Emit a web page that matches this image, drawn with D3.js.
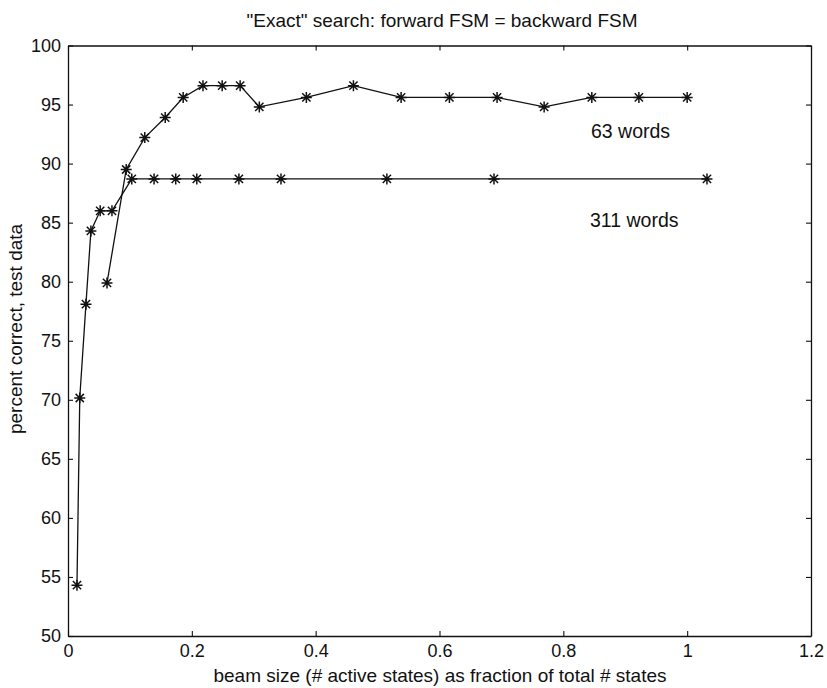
<!DOCTYPE html>
<html>
<head>
<meta charset="utf-8">
<style>
  body { margin: 0; background: #fff; }
  svg { display: block; font-family: "Liberation Sans", Arial, sans-serif; }
</style>
</head>
<body>
<svg></svg>
<script src="https://d3js.org/d3.v7.min.js"></script>
<script>
// 311 words
var xs311 = [0.0145, 0.019, 0.029, 0.037, 0.052, 0.071, 0.103, 0.139, 0.174, 0.208, 0.276, 0.344, 0.515, 0.688, 1.032];
var ys311 = [54.3, 70.15, 78.1, 84.3, 86.0, 86.0, 88.7, 88.7, 88.7, 88.7, 88.7, 88.7, 88.7, 88.7, 88.7];
// 63 words
var xs63 = [0.063, 0.094, 0.124, 0.157, 0.186, 0.218, 0.249, 0.278, 0.309, 0.385, 0.461, 0.538, 0.616, 0.693, 0.769, 0.846, 0.922, 1.0];
var ys63 = [79.9, 89.5, 92.2, 93.9, 95.6, 96.6, 96.6, 96.6, 94.8, 95.6, 96.6, 95.6, 95.6, 95.6, 94.8, 95.6, 95.6, 95.6];

var xTicks = [0, 0.2, 0.4, 0.6, 0.8, 1, 1.2];
var yTicks = [50, 55, 60, 65, 70, 75, 80, 85, 90, 95, 100];

var width = 827, height = 688;
var margin = {left: 68, right: 16, top: 45.5, bottom: 52};

var svg = d3.select("svg").attr("width", width).attr("height", height);

var x = d3.scaleLinear().domain([0, 1.2]).range([margin.left, width - margin.right]);
var y = d3.scaleLinear().domain([50, 100]).range([height - margin.bottom, margin.top]);

var fmt = function(d) { return String(d); };

// axes, matlab style box with inward ticks
svg.append("g").attr("transform", "translate(0," + y(50) + ")")
  .call(d3.axisBottom(x).tickValues(xTicks).tickFormat(fmt).tickSizeInner(-5).tickSizeOuter(0).tickPadding(8));
svg.append("g").attr("transform", "translate(0," + y(100) + ")")
  .call(d3.axisTop(x).tickValues(xTicks).tickFormat("").tickSizeInner(-5).tickSizeOuter(0));
svg.append("g").attr("transform", "translate(" + x(0) + ",0)")
  .call(d3.axisLeft(y).tickValues(yTicks).tickFormat(fmt).tickSizeInner(-5).tickSizeOuter(0).tickPadding(7));
svg.append("g").attr("transform", "translate(" + x(1.2) + ",0)")
  .call(d3.axisRight(y).tickValues(yTicks).tickFormat("").tickSizeInner(-5).tickSizeOuter(0));

svg.selectAll(".domain").attr("stroke", "#111").attr("stroke-width", 1.3);
svg.selectAll(".tick line").attr("stroke", "#111").attr("stroke-width", 1.1);
svg.selectAll(".tick text").attr("font-size", 18).attr("fill", "#111")
  .attr("font-family", "Liberation Sans, Arial, sans-serif");

var line = d3.line().x(function(d) { return x(d[0]); }).y(function(d) { return y(d[1]); });

function drawSeries(xs, ys) {
  var pts = xs.map(function(v, i) { return [v, ys[i]]; });
  svg.append("path").datum(pts).attr("d", line)
    .attr("fill", "none").attr("stroke", "#111").attr("stroke-width", 1.3);
  var r = 5.5;
  var star = "M" + (-r) + ",0L" + r + ",0M0," + (-r) + "L0," + r +
    "M" + (-r * 0.75) + "," + (-r * 0.75) + "L" + (r * 0.75) + "," + (r * 0.75) +
    "M" + (-r * 0.75) + "," + (r * 0.75) + "L" + (r * 0.75) + "," + (-r * 0.75);
  svg.append("g").selectAll("path").data(pts).enter().append("path")
    .attr("transform", function(d) { return "translate(" + x(d[0]) + "," + y(d[1]) + ")"; })
    .attr("d", star).attr("stroke", "#111").attr("stroke-width", 1.5).attr("fill", "none");
}
drawSeries(xs311, ys311);
drawSeries(xs63, ys63);

// labels
svg.append("text").attr("x", 591).attr("y", 138).attr("font-size", 19.5).attr("fill", "#111").text("63 words");
svg.append("text").attr("x", 590).attr("y", 227).attr("font-size", 19.5).attr("fill", "#111").text("311 words");

svg.append("text").attr("x", 442).attr("y", 27).attr("text-anchor", "middle")
  .attr("font-size", 19).attr("fill", "#111").text("\"Exact\" search: forward FSM = backward FSM");
svg.append("text").attr("x", 440).attr("y", 682).attr("text-anchor", "middle")
  .attr("font-size", 19).attr("fill", "#111").text("beam size (# active states) as fraction of total # states");
svg.append("text").attr("transform", "translate(22," + y(76) + ") rotate(-90)").attr("text-anchor", "middle")
  .attr("font-size", 19).attr("fill", "#111").text("percent correct, test data");
</script>
</body>
</html>
